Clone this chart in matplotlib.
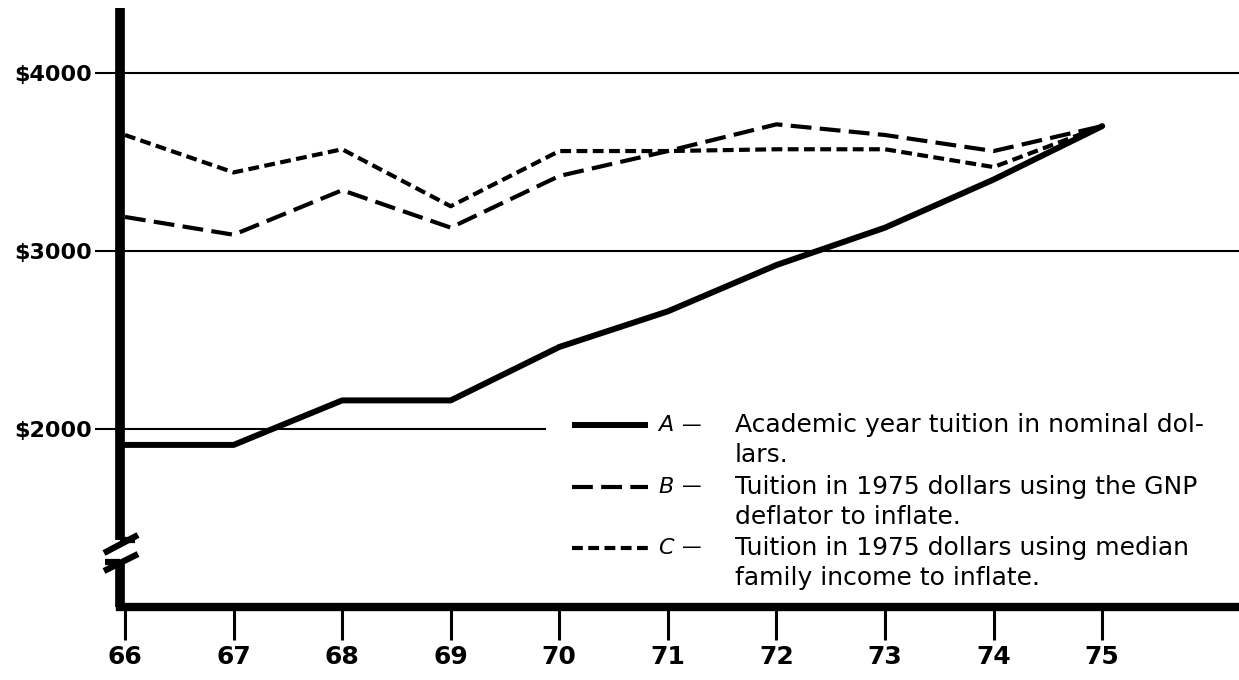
import matplotlib
matplotlib.use("Agg")
import matplotlib.pyplot as plt

# Data (school years 1966-67 .. 1975-76)
years = [66, 67, 68, 69, 70, 71, 72, 73, 74, 75]
tuition_nominal = [1910, 1910, 2160, 2160, 2460, 2660, 2920, 3130, 3400, 3700]   # A
tuition_gnp = [3190, 3090, 3340, 3130, 3420, 3560, 3710, 3650, 3560, 3700]       # B
tuition_income = [3650, 3440, 3570, 3250, 3560, 3560, 3570, 3570, 3470, 3700]    # C

y_ticks = [2000, 3000, 4000]
y_labels = [r"\$2000", r"\$3000", r"\$4000"]

legend_letters = ["A", "B", "C"]
legend_lines = [
    ["Academic year tuition in nominal dol-", "lars."],
    ["Tuition in 1975 dollars using the GNP", "deflator to inflate."],
    ["Tuition in 1975 dollars using median", "family income to inflate."],
]

styles = [
    dict(color="black", lw=4.3, ls="-"),
    dict(color="black", lw=3.0, ls=(0, (5, 2))),
    dict(color="black", lw=3.0, ls=(0, (2.6, 1.3))),
]

fig = plt.figure(figsize=(12.39, 6.8), dpi=100)
ax = fig.add_axes([120 / 1239, 1 - 607 / 680, 1119 / 1239, 602 / 680])

ax.set_xlim(65.954, 76.26)
ax.set_ylim(1000, 4380)

# horizontal rules ($2000 rule stops where the key starts)
for v in y_ticks:
    xmax = 0.38 if v == 2000 else 1.0
    ax.axhline(v, xmax=xmax, color="black", lw=1.5, zorder=1)

series = [tuition_nominal, tuition_gnp, tuition_income]
for vals, st in zip(series, styles):
    ax.plot(years, vals, zorder=3, solid_capstyle="round", **st)

# axes
for s in ["top", "right", "left"]:
    ax.spines[s].set_visible(False)
ax.spines["bottom"].set_linewidth(6)
ax.spines["bottom"].set_capstyle("projecting")

# left axis drawn by hand with a break
def px(x, y):
    return (x - 120) / 1119, (607 - y) / 602

kw = dict(transform=ax.transAxes, color="black", clip_on=False, solid_capstyle="butt", zorder=4)
ax.plot(*zip(px(120, 607), px(120, 562)), lw=7, **kw)
ax.plot(*zip(px(120, 540), px(120, 8)), lw=7, **kw)
ax.plot(*zip(px(104, 553), px(138, 535)), lw=4.5, **kw)
ax.plot(*zip(px(104, 571), px(138, 554)), lw=4.5, **kw)
ax.plot(*zip(px(105, 562), px(120, 562)), lw=4.5, **kw)
ax.plot(*zip(px(120, 540), px(135, 540)), lw=4.5, **kw)

ax.set_yticks(y_ticks)
ax.set_yticklabels(y_labels)
ax.tick_params(axis="y", length=18, width=1.5, pad=2, labelsize=16)
ax.set_xticks(years)
ax.set_xticklabels([str(y) for y in years])
ax.tick_params(axis="x", length=24, width=2.2, pad=3, labelsize=18)
for lab in ax.get_yticklabels() + ax.get_xticklabels():
    lab.set_fontweight("black")
    lab.set_family("DejaVu Sans")

# key
for k, (letter, lines, st) in enumerate(zip(legend_letters, legend_lines, styles)):
    y0 = 425 + 61.5 * k
    ax.plot(*zip(px(572, y0), px(648, y0)), **{**kw, **st, "zorder": 4})
    x, y = px(658, y0)
    ax.text(x, y, letter, transform=ax.transAxes, fontsize=16, style="italic",
            va="center", ha="left", family="DejaVu Sans")
    x, y = px(682, y0)
    ax.text(x, y, "\u2014", transform=ax.transAxes, fontsize=14,
            va="center", ha="left", family="DejaVu Sans")
    for i, line in enumerate(lines):
        x, y = px(735, y0 + 30 * i)
        ax.text(x, y, line, transform=ax.transAxes, fontsize=18,
                va="center", ha="left", family="DejaVu Sans")

fig.savefig("out.png", dpi=100)
